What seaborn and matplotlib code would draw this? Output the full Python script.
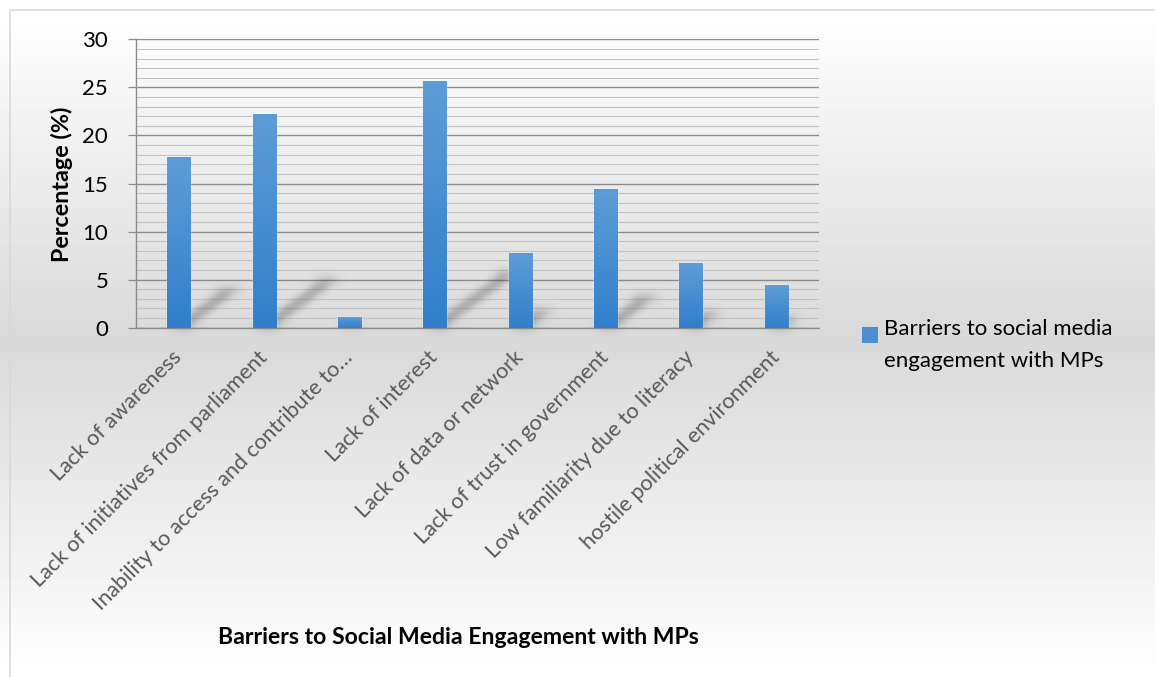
import numpy as np
import pandas as pd
import matplotlib
matplotlib.use("Agg")
import matplotlib.pyplot as plt
import seaborn as sns
from matplotlib.patches import Polygon, Rectangle
from matplotlib.colors import LinearSegmentedColormap
from matplotlib.legend_handler import HandlerPatch

# ---- data -------------------------------------------------------------
categories = [
    "Lack of awareness",
    "Lack of initiatives from parliament",
    "Inability to access and contribute to\u2026",
    "Lack of interest",
    "Lack of data or network",
    "Lack of trust in government",
    "Low familiarity due to literacy",
    "hostile political environment",
]
values = [17.8, 22.2, 1.1, 25.7, 7.8, 14.4, 6.7, 4.4]
series_label = "Barriers to social media\nengagement with MPs"
y_major_ticks = [0, 5, 10, 15, 20, 25, 30]
x_title = "Barriers to Social Media Engagement with MPs"
y_title = "Percentage (%)"

# ---- style ------------------------------------------------------------
sns.set_theme(style="white")
plt.rcParams["font.family"] = ["Lato", "DejaVu Sans"]

BAR_TOP = "#5d9dd7"
BAR_BOTTOM = "#317fcb"
BAR_MID = "#4a8fd2"
GRID_MAJOR = "#8c8c8c"
GRID_MINOR = "#c3c3c3"

W, H = 1155, 677
fig = plt.figure(figsize=(W / 100, H / 100), dpi=100)

# background: vertical grey gradient with a thin frame
bg = fig.add_axes([0, 0, 1, 1], zorder=-10)
rows = np.arange(H)
shade = np.interp(rows, [0, 10, 340, H], [255, 255, 217, 255]) / 255.0
bg.imshow(np.repeat(shade[:, None], 2, axis=1), cmap="gray", vmin=0, vmax=1,
          aspect="auto", extent=[0, 1, 0, 1], origin="upper")
bg.plot([10 / W, 10 / W], [0, 1 - 10 / H], color="#d9d9d9", lw=1.2)
bg.plot([10 / W, 1], [1 - 10 / H, 1 - 10 / H], color="#d9d9d9", lw=1.2)
bg.set_xlim(0, 1)
bg.set_ylim(0, 1)
bg.axis("off")

# plot area
left, right, top, bottom = 136, 819, 39.3, 327.7
ax = fig.add_axes([left / W, 1 - bottom / H, (right - left) / W, (bottom - top) / H])
ax.patch.set_alpha(0)

df = pd.DataFrame({"Barrier": categories, "Percentage": values})
sns.barplot(data=df, x="Barrier", y="Percentage", color=BAR_MID, width=0.27,
            saturation=1, errorbar=None, ax=ax, zorder=3)


def gaussian_blur(sigma):
    def _filter(im, dpi):
        s = sigma * dpi / 100.0
        pad = int(3 * s) + 1
        out = np.pad(im, ((pad, pad), (pad, pad), (0, 0)))
        taps = np.arange(-pad, pad + 1)
        k = np.exp(-0.5 * (taps / s) ** 2)
        k /= k.sum()
        for axis in (0, 1):
            acc = np.zeros_like(out)
            for t, wgt in zip(taps, k):
                acc += wgt * np.roll(out, t, axis=axis)
            out = acc
        return out, -pad, -pad
    return _filter


bar_cmap = LinearSegmentedColormap.from_list("bar", [BAR_BOTTOM, BAR_TOP])
gradient = np.linspace(1, 0, 128).reshape(-1, 1)
for bar in list(ax.patches):
    x0, w, h = bar.get_x(), bar.get_width(), bar.get_height()
    # soft perspective shadow cast up and to the right of each bar
    shadow = Polygon([(x0, 0), (x0 + w, 0),
                      (x0 + w + 0.035 * h, 0.225 * h), (x0 + 0.035 * h, 0.225 * h)],
                     closed=True, facecolor="black", edgecolor="none",
                     alpha=0.30, zorder=2)
    shadow.set_agg_filter(gaussian_blur(5))
    shadow.set_rasterized(True)
    ax.add_patch(shadow)
    # vertical colour gradient inside the bar
    im = ax.imshow(gradient, cmap=bar_cmap, vmin=0, vmax=1, aspect="auto",
                   extent=[x0, x0 + w, 0, h], origin="upper", zorder=3.2,
                   interpolation="bicubic")
    im.set_clip_path(bar)

ax.set_xlim(-0.5, len(categories) - 0.5)
ax.set_ylim(0, 30)
ax.set_aspect("auto")

ax.set_yticks(y_major_ticks)
ax.set_yticks(np.arange(0, 31, 1), minor=True)
ax.set_axisbelow(True)
ax.grid(axis="y", which="major", color=GRID_MAJOR, lw=1.0)
ax.grid(axis="y", which="minor", color=GRID_MINOR, lw=0.8)
ax.grid(axis="x", visible=False)

for side in ("top", "right"):
    ax.spines[side].set_visible(False)
for side in ("left", "bottom"):
    ax.spines[side].set_visible(True)
    ax.spines[side].set_color(GRID_MAJOR)
    ax.spines[side].set_linewidth(1.0)

ax.tick_params(axis="y", which="major", length=6, width=0.9, color=GRID_MAJOR,
               direction="out", pad=14, labelsize=16, labelcolor="black", left=True)
ax.tick_params(axis="y", which="minor", length=0)
ax.tick_params(axis="x", length=0, pad=19, labelsize=15.7, labelcolor="#595959")
ax.set_xticks(range(len(categories)))
ax.set_xticklabels(categories, rotation=45, ha="right", va="center",
                   rotation_mode="anchor")
ax.set_xlabel("")
ax.set_ylabel("")

fig.text(62 / W, 1 - 184 / H, y_title, rotation=90, ha="center", va="center",
         fontsize=16.8, fontweight="bold", color="black")
fig.text(458 / W, 1 - 637 / H, x_title, ha="center", va="center",
         fontsize=16.6, fontweight="bold", color="black")


# legend: square key aligned with the first line of the label
def top_square(legend, orig_handle, xdescent, ydescent, width, height, fontsize):
    size = 0.72 * fontsize
    return Rectangle((-xdescent, -ydescent + 0.45 * fontsize), size, size)


key = Rectangle((0, 0), 1, 1, facecolor=BAR_MID, edgecolor="none")
leg = fig.legend([key], [series_label], loc="upper left",
                 bbox_to_anchor=(862 / W, 1 - 319 / H), frameon=False,
                 fontsize=16, handlelength=0.72, handleheight=0.72,
                 handletextpad=0.28, borderpad=0, borderaxespad=0,
                 handler_map={Rectangle: HandlerPatch(patch_func=top_square)})
for t in leg.get_texts():
    t.set_linespacing(1.75)
    t.set_color("black")

fig.savefig("out.png", dpi=100)
